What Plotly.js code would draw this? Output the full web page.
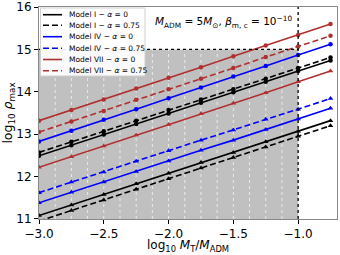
<!DOCTYPE html>
<html><head><meta charset="utf-8">
<script src="https://cdn.plot.ly/plotly-3.0.1.min.js"></script>
<style>html,body{margin:0;padding:0;background:#fff}#c{width:340px;height:255px}</style>
</head><body><div id="c"></div>
<script>
const logMT = [-3.0, -2.75, -2.5, -2.25, -2.0, -1.75, -1.5, -1.25, -1.0, -0.75];
// upper group (circle markers)
const up_VII_a0    = [13.32, 13.57, 13.82, 14.08, 14.33, 14.58, 14.84, 15.09, 15.34, 15.60];
const up_VII_a075  = [13.05, 13.30, 13.55, 13.81, 14.06, 14.31, 14.56, 14.82, 15.07, 15.32];
const up_IV_a0     = [12.83, 13.08, 13.34, 13.59, 13.85, 14.10, 14.36, 14.61, 14.87, 15.12];
const up_I_a075    = [12.57, 12.82, 13.07, 13.32, 13.57, 13.82, 14.06, 14.31, 14.56, 14.81];
const up_I_a0      = [12.49, 12.74, 12.99, 13.24, 13.49, 13.74, 13.99, 14.24, 14.49, 14.74];
// lower group (triangle markers)
const lo_VII_a0    = [12.22, 12.47, 12.72, 12.98, 13.23, 13.48, 13.73, 13.98, 14.24, 14.49];
const lo_IV_a075   = [11.62, 11.87, 12.11, 12.36, 12.61, 12.86, 13.10, 13.35, 13.59, 13.84];
const lo_IV_a0     = [11.38, 11.63, 11.87, 12.12, 12.37, 12.62, 12.86, 13.11, 13.36, 13.61];
const lo_I_a0      = [11.08, 11.33, 11.58, 11.83, 12.08, 12.33, 12.57, 12.82, 13.07, 13.32];
const lo_I_a075    = [10.95, 11.20, 11.45, 11.70, 11.95, 12.20, 12.45, 12.70, 12.95, 13.20];

const legendNames = ['Model I − <i>α</i> = 0','Model I − <i>α</i> = 0.75','Model IV − <i>α</i> = 0','Model IV − <i>α</i> = 0.75','Model VII − <i>α</i> = 0','Model VII − <i>α</i> = 0.75'];
const xTicks = [-3, -2.5, -2, -1.5, -1];
const xTickText = ['−3.0','−2.5','−2.0','−1.5','−1.0'];
const yTicks = [11, 12, 13, 14, 15, 16];
const gridX = [-2.875,-2.75,-2.625,-2.5,-2.375,-2.25,-2.125,-2.0,-1.875,-1.75,-1.625,-1.5,-1.375,-1.25,-1.125];

const BLK='#000000', BLU='#0000ff', RED='#b03030';
const DASH='6px,3px';
const legendColors = [BLK, BLK, BLU, BLU, RED, RED];
const legendDash = ['solid', DASH, 'solid', DASH, 'solid', DASH];

function line(y, color, dash){
  return {x: logMT, y: y, mode:'lines', line:{color:color, width:1.6, dash:dash}, showlegend:false, hoverinfo:'skip'};
}
function mk(y, color, sym){
  return {x: logMT, y: y, mode:'markers', marker:{color:color, size: sym==='circle'?4.5:5, symbol:sym},
    showlegend:false, hoverinfo:'skip'};
}
const data = [
  line(up_VII_a0, RED, 'solid'), line(up_VII_a075, RED, DASH), line(up_IV_a0, BLU, 'solid'),
  line(up_I_a075, BLK, DASH), line(up_I_a0, BLK, 'solid'),
  line(lo_VII_a0, RED, 'solid'), line(lo_IV_a075, BLU, DASH), line(lo_IV_a0, BLU, 'solid'),
  line(lo_I_a0, BLK, 'solid'), line(lo_I_a075, BLK, DASH),
  mk(up_VII_a0, RED, 'circle'), mk(up_VII_a075, RED, 'circle'), mk(up_IV_a0, BLU, 'circle'),
  mk(up_I_a075, BLK, 'circle'), mk(up_I_a0, BLK, 'circle'),
  mk(lo_VII_a0, RED, 'triangle-up'), mk(lo_IV_a075, BLU, 'triangle-up'), mk(lo_IV_a0, BLU, 'triangle-up'),
  mk(lo_I_a0, BLK, 'triangle-up'), mk(lo_I_a075, BLK, 'triangle-up')
];

// pixel -> paper helpers (plot area: x 39..337, y 7..219)
const L=39, T=7, W=298, H=212;
const px = v => (v-L)/W;
const py = v => 1-(v-T)/H;

const shapes = [
  {type:'rect', xref:'x', yref:'y', x0:-3, x1:-1, y0:11, y1:15, fillcolor:'#c0c0c0', line:{width:0}, layer:'below'}
];
gridX.forEach(g=>shapes.push({type:'line', xref:'x', yref:'y', x0:g, x1:g, y0:11, y1:15,
  line:{color:'rgba(255,255,255,0.85)', width:0.8, dash:'dot'}, layer:'below'}));
shapes.push({type:'line', xref:'x', yref:'y', x0:-3, x1:-1, y0:15, y1:15, line:{color:'#000', width:1.3, dash:'dot'}, layer:'above'});
shapes.push({type:'line', xref:'x', yref:'paper', x0:-1, x1:-1, y0:0, y1:1, line:{color:'#000', width:1.3, dash:'dot'}, layer:'above'});

// manual legend
shapes.push({type:'rect', xref:'paper', yref:'paper', x0:px(40.5), x1:px(145), y0:py(8), y1:py(76),
  fillcolor:'rgba(255,255,255,0.92)', line:{color:'#d0d0d0', width:1}, layer:'above'});
const rowY = [14.7, 25.3, 36.7, 48.3, 59.5, 70.7];
const annotations = [];
legendNames.forEach((n,i)=>{
  shapes.push({type:'line', xref:'paper', yref:'paper', x0:px(43), x1:px(62), y0:py(rowY[i]), y1:py(rowY[i]),
    line:{color:legendColors[i], width:1.6, dash:legendDash[i]}, layer:'above'});
  annotations.push({xref:'paper', yref:'paper', x:px(67), y:py(rowY[i]), xanchor:'left', yanchor:'middle',
    showarrow:false, text:n, font:{size:7.5, family:'DejaVu Sans', color:'#000'}});
});
annotations.push({xref:'paper', yref:'paper', x:px(294), y:py(12), xanchor:'right', yanchor:'top', showarrow:false,
  text:'<i>M</i><sub>ADM</sub> = 5<i>M</i><sub>⊙</sub>, <i>β</i><sub>m, c</sub> = 10<sup>−10</sup>', font:{size:10.5, family:'DejaVu Sans', color:'#000'}});
// x axis title
annotations.push({xref:'paper', yref:'paper', x:0.5, y:py(255), xanchor:'center', yanchor:'bottom', yshift:0, showarrow:false,
  text:'log<sub>10</sub> <i>M</i><sub>T</sub>/<i>M</i><sub>ADM</sub>', font:{size:12, family:'DejaVu Sans', color:'#000'}, borderpad:0});

const layout = {
  width:340, height:255,
  margin:{l:L, r:340-L-W, t:T, b:255-T-H},
  paper_bgcolor:'#fff', plot_bgcolor:'#fff',
  font:{family:'DejaVu Sans', color:'#000', size:12},
  showlegend:false,
  xaxis:{range:[-3,-0.7], tickvals:xTicks, ticktext:xTickText,
    ticks:'outside', ticklen:4, tickcolor:'#000', showgrid:false, zeroline:false,
    showline:true, linecolor:'#888', mirror:true, linewidth:1, tickfont:{size:12}},
  yaxis:{range:[10.999,16.001], tickvals:yTicks, ticks:'outside', ticklen:4, tickcolor:'#000', ticklabeloverflow:'allow',
    showgrid:false, zeroline:false, showline:true, linecolor:'#888', mirror:true, linewidth:1, tickfont:{size:12},
    title:{text:'log<sub>10</sub> <i>ρ</i><sub>max</sub>', font:{size:12.5}, standoff:5}},
  shapes: shapes,
  annotations: annotations
};
Plotly.newPlot('c', data, layout, {staticPlot:true, displayModeBar:false});
</script></body></html>
